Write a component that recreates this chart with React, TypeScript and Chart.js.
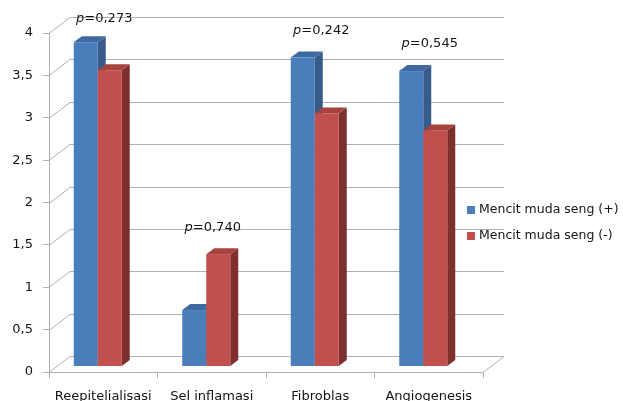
import React, { useEffect, useRef } from "react";
import { Chart, registerables } from "chart.js";

Chart.register(...registerables);

// Data
const categories = ["Reepitelialisasi", "Sel inflamasi", "Fibroblas", "Angiogenesis"];
const seriesLabels = ["Mencit muda seng (+)", "Mencit muda seng (-)"];
const zincPlus = [3.82, 0.66, 3.64, 3.48];
const zincMinus = [3.49, 1.32, 2.98, 2.78];
const pValues = ["0,273", "0,740", "0,242", "0,545"];

// Styling
const FONT = "'DejaVu Sans', sans-serif";
const TEXT = "#141414";
const GRID = "#b0b0b0";
const WALL = { dx: 21, dy: -16 }; // depth of floor / back wall
const BAR_DEPTH = { dx: 8, dy: -6 }; // depth of each bar box
const BAR_FRONT = { dx: -5.5, dy: -6 }; // bar front face relative to front plane
const faces = [
  { front: "#4a7ebb", top: "#3f6aa1", side: "#375c8b" },
  { front: "#c0504d", top: "#a7423f", side: "#7e302e" },
];

const threeD = {
  id: "threeD",
  beforeDatasetsDraw(chart: any) {
    const { ctx, chartArea, scales } = chart;
    const y = scales.y;
    const { left, right } = chartArea;
    ctx.save();
    ctx.strokeStyle = GRID;
    ctx.lineWidth = 1;
    // back wall grid + side wall diagonals
    y.ticks.forEach((t: any) => {
      const py = Math.round(y.getPixelForValue(t.value)) + 0.5;
      ctx.beginPath();
      ctx.moveTo(left, py);
      ctx.lineTo(left + WALL.dx, py + WALL.dy);
      ctx.lineTo(right + WALL.dx, py + WALL.dy);
      ctx.stroke();
    });
    // floor right edge
    const y0 = Math.round(y.getPixelForValue(0)) + 0.5;
    ctx.beginPath();
    ctx.moveTo(right, y0);
    ctx.lineTo(right + WALL.dx, y0 + WALL.dy);
    ctx.stroke();

    // bars as boxes
    const n = categories.length;
    for (let i = 0; i < n; i++) {
      chart.data.datasets.forEach((ds: any, di: number) => {
        const el = chart.getDatasetMeta(di).data[i];
        const c = faces[di];
        const w = el.width;
        const x0 = el.x - w / 2 + BAR_FRONT.dx;
        const x1 = x0 + w;
        const yb = y.getPixelForValue(0) + BAR_FRONT.dy;
        const yt = y.getPixelForValue(ds.data[i]) + BAR_FRONT.dy;
        const { dx, dy } = BAR_DEPTH;
        // side
        ctx.fillStyle = c.side;
        ctx.beginPath();
        ctx.moveTo(x1, yt);
        ctx.lineTo(x1 + dx, yt + dy);
        ctx.lineTo(x1 + dx, yb + dy);
        ctx.lineTo(x1, yb);
        ctx.closePath();
        ctx.fill();
        // top
        ctx.fillStyle = c.top;
        ctx.beginPath();
        ctx.moveTo(x0, yt);
        ctx.lineTo(x0 + dx, yt + dy);
        ctx.lineTo(x1 + dx, yt + dy);
        ctx.lineTo(x1, yt);
        ctx.closePath();
        ctx.fill();
        // front
        ctx.fillStyle = c.front;
        ctx.fillRect(x0, yt, w, yb - yt);
      });
    }
    ctx.restore();
    return false;
  },
  afterDraw(chart: any) {
    const { ctx, scales, chartArea } = chart;
    const x = scales.x;
    const y = scales.y;
    ctx.save();
    ctx.fillStyle = TEXT;
    ctx.textBaseline = "middle";
    // p-value annotations above each group, kept inside the plot
    pValues.forEach((p, i) => {
      const top = Math.max(zincPlus[i], zincMinus[i]);
      const cx = x.getPixelForValue(i) + 1;
      const cy = Math.max(y.getPixelForValue(top) - 33, chartArea.top - 14);
      const italic = "italic 13px " + FONT;
      const normal = "13px " + FONT;
      ctx.font = italic;
      const wp = ctx.measureText("p").width;
      ctx.font = normal;
      const rest = "=" + p;
      const wr = ctx.measureText(rest).width;
      const sx = cx - (wp + wr) / 2;
      ctx.textAlign = "left";
      ctx.font = italic;
      ctx.fillText("p", sx, cy);
      ctx.font = normal;
      ctx.fillText(rest, sx + wp, cy);
    });
    // legend
    const lx = 467;
    const ly = [210, 236];
    chart.data.datasets.forEach((ds: any, di: number) => {
      ctx.fillStyle = ds.backgroundColor;
      ctx.fillRect(lx, ly[di] - 4, 8, 8);
      ctx.fillStyle = TEXT;
      ctx.font = "12.5px " + FONT;
      ctx.textAlign = "left";
      ctx.fillText(ds.label, lx + 12, ly[di]);
    });
    ctx.restore();
  },
};

export default function App() {
  const ref = useRef<HTMLCanvasElement>(null);
  useEffect(() => {
    if (!ref.current) return;
    const chart = new Chart(ref.current, {
      type: "bar",
      data: {
        labels: categories,
        datasets: [
          { label: seriesLabels[0], data: zincPlus, backgroundColor: faces[0].front },
          { label: seriesLabels[1], data: zincMinus, backgroundColor: faces[1].front },
        ],
      },
      options: {
        animation: false,
        responsive: false,
        devicePixelRatio: 1,
        layout: { padding: { left: 0, top: 33, right: 140, bottom: 0 } },
        datasets: { bar: { categoryPercentage: 0.4424, barPercentage: 1 } },
        plugins: { legend: { display: false }, tooltip: { enabled: false } },
        scales: {
          x: {
            offset: true,
            grid: { display: true, drawOnChartArea: false, offset: true, color: GRID, tickLength: 6 },
            border: { display: true, color: GRID },
            ticks: { color: TEXT, font: { family: FONT, size: 13 }, padding: 11, maxRotation: 0 },
            afterFit: (s: any) => { s.height = 29; },
          },
          y: {
            min: 0,
            max: 4,
            grid: { display: true, drawOnChartArea: false, color: GRID, tickLength: 6 },
            border: { display: true, color: GRID },
            ticks: {
              stepSize: 0.5,
              color: TEXT,
              font: { family: FONT, size: 13 },
              padding: 10,
              callback: (v: any) => String(v).replace(".", ","),
            },
            afterFit: (s: any) => { s.width = 49; },
          },
        },
      },
      plugins: [threeD],
    });
    return () => chart.destroy();
  }, []);
  return (
    <div style={{ position: "absolute", left: 0, top: 0, width: 623, height: 401, background: "#fff" }}>
      <canvas ref={ref} width={623} height={401} />
    </div>
  );
}
